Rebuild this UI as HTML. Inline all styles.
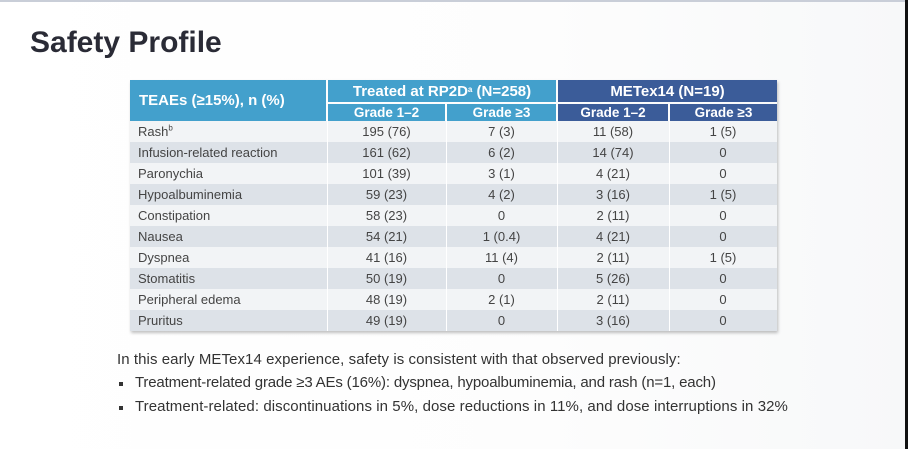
<!DOCTYPE html>
<html><head><meta charset="utf-8"><style>
html,body{margin:0;padding:0;}
body{width:908px;height:449px;position:relative;overflow:hidden;background:linear-gradient(90deg,#ffffff 0%,#fdfdfd 60%,#f7f8f9 100%);font-family:"Liberation Sans",sans-serif;}
.topline{position:absolute;left:0;top:0;width:908px;height:2px;background:#c9ced8;}
.rstrip{position:absolute;left:905px;top:0;width:3px;height:449px;background:#111;}
.title{position:absolute;left:30px;top:26px;font-size:30px;font-weight:bold;color:#2a2b36;}
.tbl{position:absolute;left:130px;top:80px;width:647px;height:251px;box-shadow:1px 2px 3px rgba(0,0,0,0.25);}
.c{position:absolute;box-sizing:border-box;display:flex;align-items:center;justify-content:center;white-space:nowrap;}
.h{color:#fff;font-weight:bold;}
.lb{background:#43a0cc;}
.db{background:#3b5c99;}
.row{position:absolute;left:0;width:647px;height:21px;font-size:13px;color:#444;}
.row div{position:absolute;top:0;height:21px;line-height:21px;text-align:center;}
.g{background:#dde2e8;}
.w{background:#f2f4f6;}
.txt{position:absolute;font-size:15px;color:#333;white-space:nowrap;}
.bul{position:absolute;width:4px;height:4px;background:#333;}
</style></head><body>
<div class="topline"></div>
<div class="rstrip"></div>
<div class="title">Safety Profile</div>
<div class="tbl">
  <div class="c h lb" style="left:0;top:0;width:196px;height:41px;font-size:15px;justify-content:flex-start;padding-left:9px;">TEAEs (≥15%), n (%)</div>
  <div class="c h lb" style="left:198px;top:0;width:228px;height:22px;font-size:15px;">Treated at RP2D<sup style="font-size:8px;position:relative;top:-2px;">a</sup>&nbsp;(N=258)</div>
  <div class="c h db" style="left:428px;top:0;width:219px;height:22px;font-size:15px;">METex14 (N=19)</div>
  <div class="c h lb" style="left:198px;top:24px;width:117px;height:17px;font-size:13.5px;">Grade 1–2</div>
  <div class="c h lb" style="left:317px;top:24px;width:109px;height:17px;font-size:13.5px;">Grade ≥3</div>
  <div class="c h db" style="left:428px;top:24px;width:110px;height:17px;font-size:13.5px;">Grade 1–2</div>
  <div class="c h db" style="left:540px;top:24px;width:107px;height:17px;font-size:13.5px;">Grade ≥3</div>
  <div style="position:absolute;left:0;top:41px;width:647px;height:210px;background:#f2f4f6;"></div>
  <div style="position:absolute;left:0;top:41px;width:647px;height:210px;">
    <div class="row w" style="top:0"><div style="left:8px;text-align:left">Rash<sup style="font-size:8px;line-height:0;">b</sup></div><div style="left:197px;width:119px">195 (76)</div><div style="left:316px;width:111px">7 (3)</div><div style="left:427px;width:112px">11 (58)</div><div style="left:539px;width:108px">1 (5)</div></div>
    <div class="row g" style="top:21px"><div style="left:8px;text-align:left">Infusion-related reaction</div><div style="left:197px;width:119px">161 (62)</div><div style="left:316px;width:111px">6 (2)</div><div style="left:427px;width:112px">14 (74)</div><div style="left:539px;width:108px">0</div></div>
    <div class="row w" style="top:42px"><div style="left:8px;text-align:left">Paronychia</div><div style="left:197px;width:119px">101 (39)</div><div style="left:316px;width:111px">3 (1)</div><div style="left:427px;width:112px">4 (21)</div><div style="left:539px;width:108px">0</div></div>
    <div class="row g" style="top:63px"><div style="left:8px;text-align:left">Hypoalbuminemia</div><div style="left:197px;width:119px">59 (23)</div><div style="left:316px;width:111px">4 (2)</div><div style="left:427px;width:112px">3 (16)</div><div style="left:539px;width:108px">1 (5)</div></div>
    <div class="row w" style="top:84px"><div style="left:8px;text-align:left">Constipation</div><div style="left:197px;width:119px">58 (23)</div><div style="left:316px;width:111px">0</div><div style="left:427px;width:112px">2 (11)</div><div style="left:539px;width:108px">0</div></div>
    <div class="row g" style="top:105px"><div style="left:8px;text-align:left">Nausea</div><div style="left:197px;width:119px">54 (21)</div><div style="left:316px;width:111px">1 (0.4)</div><div style="left:427px;width:112px">4 (21)</div><div style="left:539px;width:108px">0</div></div>
    <div class="row w" style="top:126px"><div style="left:8px;text-align:left">Dyspnea</div><div style="left:197px;width:119px">41 (16)</div><div style="left:316px;width:111px">11 (4)</div><div style="left:427px;width:112px">2 (11)</div><div style="left:539px;width:108px">1 (5)</div></div>
    <div class="row g" style="top:147px"><div style="left:8px;text-align:left">Stomatitis</div><div style="left:197px;width:119px">50 (19)</div><div style="left:316px;width:111px">0</div><div style="left:427px;width:112px">5 (26)</div><div style="left:539px;width:108px">0</div></div>
    <div class="row w" style="top:168px"><div style="left:8px;text-align:left">Peripheral edema</div><div style="left:197px;width:119px">48 (19)</div><div style="left:316px;width:111px">2 (1)</div><div style="left:427px;width:112px">2 (11)</div><div style="left:539px;width:108px">0</div></div>
    <div class="row g" style="top:189px"><div style="left:8px;text-align:left">Pruritus</div><div style="left:197px;width:119px">49 (19)</div><div style="left:316px;width:111px">0</div><div style="left:427px;width:112px">3 (16)</div><div style="left:539px;width:108px">0</div></div>
    <div style="position:absolute;left:197px;top:0;width:1px;height:210px;background:#fff;"></div>
    <div style="position:absolute;left:316px;top:0;width:1px;height:210px;background:#fff;"></div>
    <div style="position:absolute;left:427px;top:0;width:1px;height:210px;background:#fff;"></div>
    <div style="position:absolute;left:539px;top:0;width:1px;height:210px;background:#fff;"></div>
  </div>
</div>
<div class="txt" style="left:117px;top:351px;letter-spacing:0.07px;">In this early METex14 experience, safety is consistent with that observed previously:</div>
<div class="bul" style="left:119px;top:382px;"></div>
<div class="txt" style="left:135px;top:374px;letter-spacing:-0.17px;">Treatment-related grade ≥3 AEs (16%): dyspnea, hypoalbuminemia, and rash (n=1, each)</div>
<div class="bul" style="left:119px;top:406px;"></div>
<div class="txt" style="left:135px;top:398px;letter-spacing:0.07px;">Treatment-related: discontinuations in 5%, dose reductions in 11%, and dose interruptions in 32%</div>
</body></html>
